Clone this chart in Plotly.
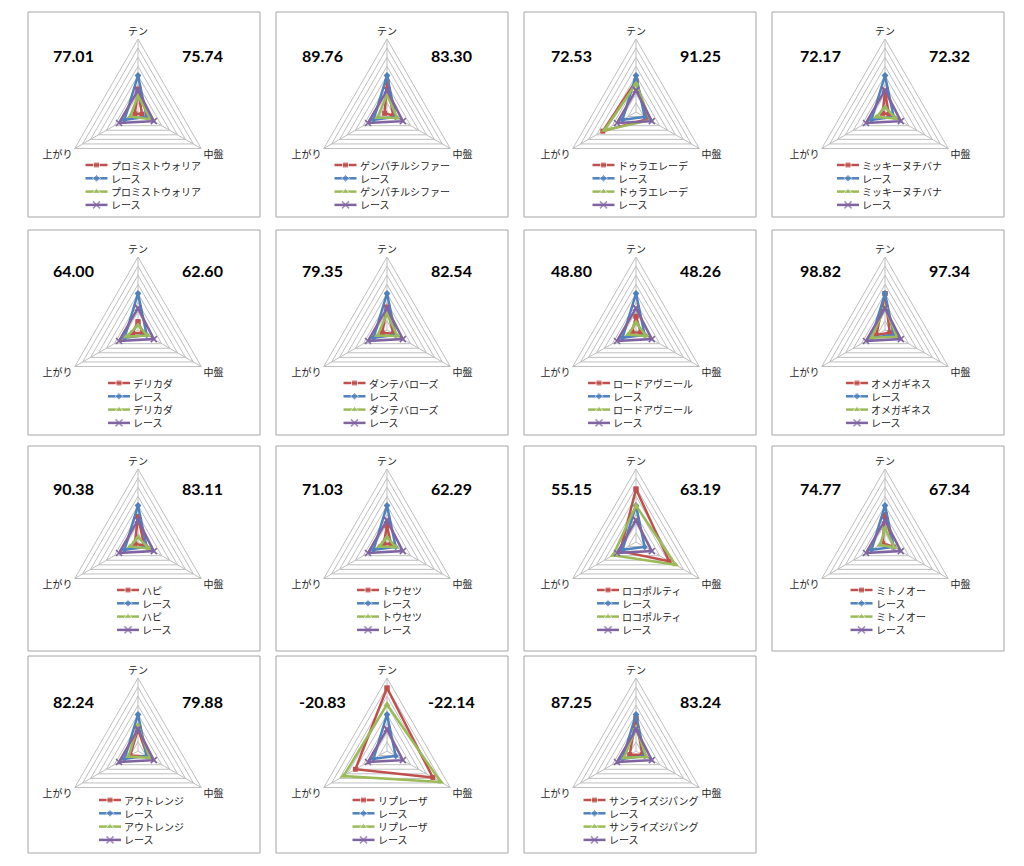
import plotly.graph_objects as go

W, H = 1024, 866

# ---------------- data ----------------
axis_labels = ["テン", "中盤", "上がり"]
horse_names = ["プロミストウォリア", "ゲンパチルシファー", "ドゥラエレーデ", "ミッキーヌチバナ",
               "デリカダ", "ダンテバローズ", "ロードアヴニール", "オメガギネス",
               "ハピ", "トウセツ", "ロコポルティ", "ミトノオー",
               "アウトレンジ", "リプレーザ", "サンライズジパング"]
race_name = "レース"
left_scores = [77.01, 89.76, 72.53, 72.17, 64.00, 79.35, 48.80, 98.82,
               90.38, 71.03, 55.15, 74.77, 82.24, -20.83, 87.25]
right_scores = [75.74, 83.30, 91.25, 72.32, 62.60, 82.54, 48.26, 97.34,
                83.11, 62.29, 63.19, 67.34, 79.88, -22.14, 83.24]
# values per axis order: テン, 中盤, 上がり
horse_a = [[2.5, 0.5, 0.4], [3.3, 0.8, 0.3], [3.4, 1.5, 4.2], [2.2, 0.5, 0.3],
           [0.9, 0.6, 0.7], [2.5, 0.8, 0.6], [1.5, 0.6, 0.5], [4.0, 0.6, 1.1],
           [2.8, 0.8, 0.4], [1.8, 0.5, 0.4], [5.8, 4.2, 2.0], [3.0, 1.1, 0.3],
           [2.4, 1.2, 1.0], [6.9, 5.8, 4.0], [3.6, 0.8, 0.8]]
horse_b = [[1.8, 1.6, 1.0], [1.9, 1.3, 1.2], [3.1, 1.8, 4.0], [0.5, 1.4, 1.1],
           [0.5, 1.2, 1.5], [1.8, 1.3, 1.2], [0.8, 1.3, 1.0], [2.5, 1.5, 1.7],
           [0.5, 1.4, 1.0], [0.5, 1.1, 1.0], [4.0, 5.0, 2.9], [1.5, 1.2, 0.6],
           [2.8, 1.5, 1.2], [5.1, 6.8, 5.5], [2.6, 1.3, 1.5]]
race_a = [4.0, 1.1, 1.7]
race_b = [2.4, 2.0, 2.4]

# ---------------- layout constants ----------------
col_x0 = [28, 276, 524, 772]
row_y0 = [12, 230, 446, 656]
row_h = [205, 205, 205, 197]
box_w = 232
col_cx = [138, 387, 636, 885]
row_cy = [112, 330, 542, 751]
row_num_y = [55, 270, 488, 701]
row_leg_y = [165, 383, 590, 800]
leg_step = 13.3
R = 73
rmax = 8

series_style = [
    dict(color="#C0504D", symbol="square", size=6),
    dict(color="#4F81BD", symbol="diamond", size=6),
    dict(color="#9BBB59", symbol="triangle-up", size=7),
    dict(color="#8064A2", symbol="x-thin", size=7),
]
grid_col = "#BFBFBF"
jp_font = "Noto Sans CJK JP"

fig = go.Figure()
shapes = []
annotations = []

for i, name in enumerate(horse_names):
    r, c = divmod(i, 4)
    cx, cy = col_cx[c], row_cy[r]
    pid = "polar" if i == 0 else f"polar{i+1}"
    series = [(name, horse_a[i]), (race_name, race_a), (name, horse_b[i]), (race_name, race_b)]
    for (sname, vals), st in zip(series, series_style):
        mk = dict(color=st["color"], symbol=st["symbol"], size=st["size"] - 1)
        if st["symbol"] == "x-thin":
            mk["line"] = dict(color=st["color"], width=1.5)
        fig.add_trace(go.Scatterpolar(
            r=list(vals) + [vals[0]], theta=axis_labels + [axis_labels[0]],
            mode="lines+markers", name=sname, subplot=pid, showlegend=False,
            line=dict(color=st["color"], width=2.5), marker=mk, hoverinfo="skip"))
    fig.layout[pid] = dict(
        domain=dict(x=[(cx - R) / W, (cx + R) / W], y=[1 - (cy + R) / H, 1 - (cy - R) / H]),
        bgcolor="rgba(0,0,0,0)",
        gridshape="linear",
        angularaxis=dict(type="category", categoryorder="array", categoryarray=axis_labels,
                         rotation=90, direction="clockwise", showline=True, linecolor=grid_col,
                         linewidth=1, gridcolor=grid_col, ticks="",
                         tickfont=dict(family=jp_font, size=10, color="#262626")),
        radialaxis=dict(range=[0, rmax], dtick=1, tick0=0, showticklabels=False, ticks="",
                        showline=False, gridcolor=grid_col, gridwidth=1),
    )
    # panel frame
    x0, y0 = col_x0[c], row_y0[r]
    shapes.append(dict(type="rect", xref="paper", yref="paper",
                       x0=x0 / W, x1=(x0 + box_w) / W, y0=1 - y0 / H, y1=1 - (y0 + row_h[r]) / H,
                       line=dict(color="#A6A6A6", width=1), layer="below"))
    # scores
    for val, dx in ((left_scores[i], -65), (right_scores[i], 64)):
        annotations.append(dict(x=cx + dx, y=row_num_y[r], xref="x", yref="y", text=f"{val:.2f}",
                                showarrow=False, xanchor="center", yanchor="middle",
                                font=dict(family="Lato", size=16, color="#000000", weight="bold")))
    # legend
    text_w = len(name) * 9.0
    bx = cx - (24 + text_w) / 2
    for k, ((sname, _), st) in enumerate(zip(series, series_style)):
        ly = row_leg_y[r] + k * leg_step
        mk = dict(color=st["color"], symbol=st["symbol"], size=[0, st["size"], 0])
        if st["symbol"] == "x-thin":
            mk["line"] = dict(color=st["color"], width=1.5)
        fig.add_trace(go.Scatter(x=[bx, bx + 11, bx + 22], y=[ly, ly, ly], mode="lines+markers",
                                 line=dict(color=st["color"], width=2.5), marker=mk,
                                 showlegend=False, hoverinfo="skip", xaxis="x", yaxis="y"))
        annotations.append(dict(x=bx + 23, y=ly, xref="x", yref="y", text=sname, showarrow=False,
                                xanchor="left", yanchor="middle",
                                font=dict(family=jp_font, size=10, color="#262626")))

fig.update_layout(
    width=W, height=H, margin=dict(l=0, r=0, t=0, b=0),
    paper_bgcolor="white", plot_bgcolor="rgba(0,0,0,0)",
    xaxis=dict(range=[0, W], domain=[0, 1], visible=False, fixedrange=True),
    yaxis=dict(range=[H, 0], domain=[0, 1], visible=False, fixedrange=True),
    shapes=shapes, annotations=annotations, showlegend=False,
)

fig.write_html("out.html", config={"displayModeBar": False},
               post_script="document.body.style.margin='0';")
